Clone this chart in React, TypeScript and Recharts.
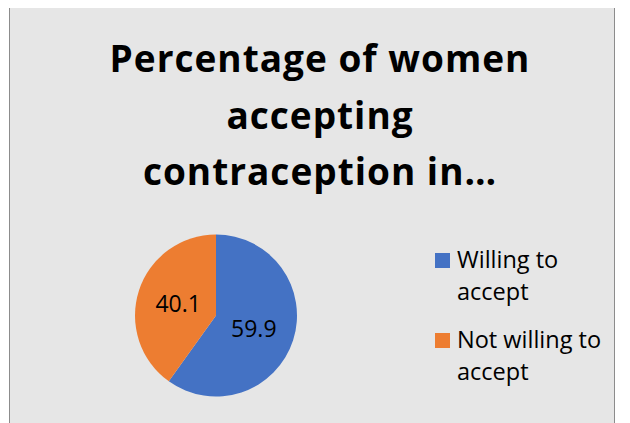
import React from 'react';
import { PieChart, Pie, Cell, Legend } from 'recharts';

const categories = ['Willing to accept', 'Not willing to accept'];
const values = [59.9, 40.1];
const legendLines = [['Willing to', 'accept'], ['Not willing to', 'accept']];
const titleLines = ['Percentage of women', 'accepting', 'contraception in…'];
const colors = ['#4472C4', '#ED7D31'];

const FONT = '"Open Sans", Lato, sans-serif';

const data = categories.map((name, i) => ({ name, value: values[i] }));

const RADIAN = Math.PI / 180;

const renderLabel = (props: any) => {
  const { cx, cy, midAngle, outerRadius, value } = props;
  const r = outerRadius * 0.49;
  const x = cx + r * Math.cos(-midAngle * RADIAN);
  const y = cy + r * Math.sin(-midAngle * RADIAN);
  return (
    <text x={x} y={y} fill="#000" fontSize={23} fontFamily={FONT} textAnchor="middle" dominantBaseline="central">
      {value}
    </text>
  );
};

const renderLegend = () => (
  <svg width={180} height={150} style={{ overflow: 'visible' }}>
    {legendLines.map((lines, i) => (
      <g key={i}>
        <rect x={0} y={6 + i * 80} width={15} height={15} fill={colors[i]} />
        {lines.map((t, j) => (
          <text key={j} x={22} y={21 + i * 80 + j * 32} fontSize={23.5} fontFamily={FONT} fill="#000">
            {t}
          </text>
        ))}
      </g>
    ))}
  </svg>
);

const App: React.FC = () => {
  return (
    <div
      style={{
        position: 'relative',
        width: 606,
        height: 430,
        marginLeft: 1,
        marginTop: -2,
        border: '1px solid #8c8c8c',
        boxSizing: 'border-box',
        background: '#e6e6e6',
        overflow: 'hidden',
      }}
    >
      <svg width={604} height={200} style={{ position: 'absolute', left: 0, top: 0 }}>
        {titleLines.map((t, i) => (
          <text key={i} x={310} y={65 + i * 56.5} textAnchor="middle" fontSize={37} fontWeight="bold" fontFamily={FONT} letterSpacing={1} fill="#000">
            {t}
          </text>
        ))}
      </svg>
      <div style={{ position: 'absolute', left: 0, top: 0 }}>
        <PieChart width={604} height={428} margin={{ top: 0, right: 0, bottom: 0, left: 0 }}>
          <Pie
            data={data}
            dataKey="value"
            nameKey="name"
            cx={206}
            cy={308.5}
            outerRadius={81}
            startAngle={90}
            endAngle={-270}
            stroke="none"
            label={renderLabel}
            labelLine={false}
            isAnimationActive={false}
          >
            {data.map((d, i) => (
              <Cell key={d.name} fill={colors[i]} />
            ))}
          </Pie>
          <Legend
            content={renderLegend}
            wrapperStyle={{ position: 'absolute', left: 425, top: 240, width: 180, height: 150 }}
          />
        </PieChart>
      </div>
    </div>
  );
};

export default App;
